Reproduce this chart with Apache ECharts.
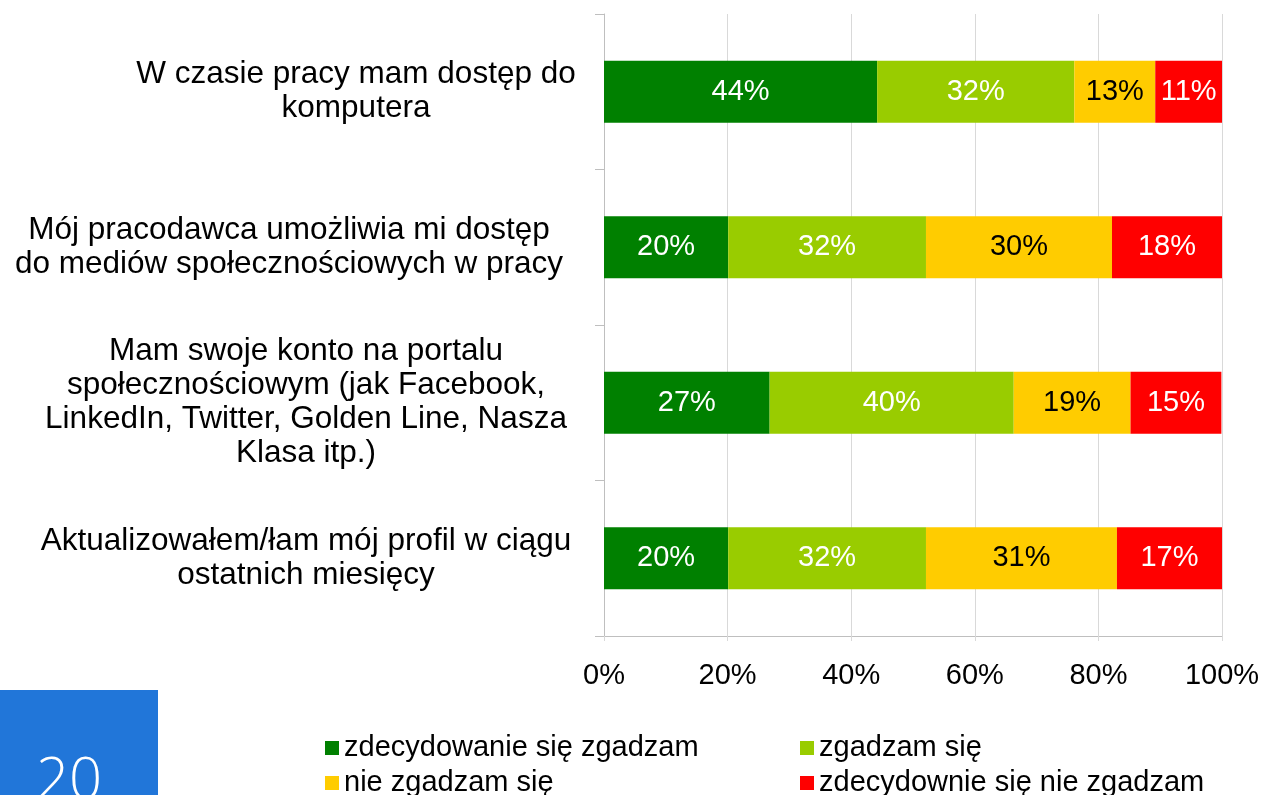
<!DOCTYPE html>
<html>
<head>
<meta charset="utf-8">
<script src="https://cdn.jsdelivr.net/npm/echarts@6/dist/echarts.min.js"></script>
<style>
  html, body { margin: 0; padding: 0; background: #fff; }
  #chart { width: 1263px; height: 795px; }
</style>
</head>
<body>
<div id="chart"></div>
<script>
  // pytania (od góry)
  var categories = [
    'W czasie pracy mam dostęp do\nkomputera',
    'Mój pracodawca umożliwia mi dostęp\ndo mediów społecznościowych w pracy',
    'Mam swoje konto na portalu\nspołecznościowym (jak Facebook,\nLinkedIn, Twitter, Golden Line, Nasza\nKlasa itp.)',
    'Aktualizowałem/łam mój profil w ciągu\nostatnich miesięcy'
  ]
  var seriesNames = ['zdecydowanie się zgadzam', 'zgadzam się', 'nie zgadzam się', 'zdecydownie się nie zgadzam']
  var strongAgree = [44.2, 20.1, 26.8, 20.1]
  var agree = [31.9, 32.0, 39.5, 32.0]
  var disagree = [13.1, 30.1, 18.9, 30.9]
  var strongDisagree = [10.8, 17.8, 14.7, 17.0]
  var xTicks = [0, 20, 40, 60, 80, 100]

  var colors = ['#008000', '#99cc00', '#ffcc00', '#ff0000']
  var labelColors = ['#ffffff', '#ffffff', '#000000', '#ffffff']
  var font = '"Liberation Sans", Arial, sans-serif'

  var chart = echarts.init(document.getElementById('chart'))

  function makeSeries(i, data) {
    return {
      name: seriesNames[i],
      type: 'bar',
      stack: 'total',
      barWidth: 62,
      data: data,
      itemStyle: { color: colors[i] },
      label: {
        show: true,
        position: 'inside',
        color: labelColors[i],
        fontFamily: font,
        fontSize: 29,
        formatter: function(p) {
          return Math.round(p.value) + '%'
        }
      }
    }
  }

  function legendBox(left, names) {
    return {
      orient: 'vertical',
      left: left,
      top: 727,
      height: 120,
      itemWidth: 14,
      itemHeight: 14,
      itemGap: 3,
      icon: 'rect',
      data: names,
      textStyle: { fontFamily: font, fontSize: 29, color: '#000', lineHeight: 32 }
    }
  }

  chart.setOption({
    animation: false,
    color: colors,
    grid: {
      left: 604,
      right: 41,
      top: 14,
      bottom: 159
    },
    graphic: [{
      type: 'rect',
      left: 0,
      top: 690,
      shape: { width: 158, height: 105 },
      style: { fill: '#2176d9' }
    }, {
      type: 'text',
      left: 36,
      top: 753,
      style: {
        text: '20',
        fill: '#ffffff',
        font: '300 58px "Open Sans", "Noto Sans", sans-serif'
      }
    }],
    legend: [
      legendBox(320, [seriesNames[0], seriesNames[2]]),
      legendBox(795, [seriesNames[1], seriesNames[3]])
    ],
    xAxis: {
      type: 'value',
      min: xTicks[0],
      max: xTicks[xTicks.length - 1],
      interval: xTicks[1] - xTicks[0],
      axisLine: { show: true, lineStyle: { color: '#bfbfbf' } },
      axisTick: { show: true, length: 5, lineStyle: { color: '#d9d9d9' } },
      splitLine: { show: true, lineStyle: { color: '#d9d9d9' } },
      axisLabel: {
        color: '#000',
        fontFamily: font,
        fontSize: 29,
        margin: 25,
        formatter: '{value}%'
      }
    },
    yAxis: {
      type: 'category',
      inverse: true,
      data: categories,
      axisLine: { show: true, lineStyle: { color: '#bfbfbf' } },
      axisTick: { show: true, length: 9, lineStyle: { color: '#bfbfbf' } },
      axisLabel: {
        margin: 298,
        align: 'center',
        formatter: function(value, idx) {
          var key = idx === 0 ? 'r' : (idx === 1 ? 'l' : 'c')
          return value.split('\n').map(function(s) {
            return '{' + key + '|' + s + '}'
          }).join('\n')
        },
        rich: {
          c: { fontFamily: font, fontSize: 31.5, lineHeight: 34, color: '#000' },
          r: { fontFamily: font, fontSize: 31.5, lineHeight: 34, color: '#000', padding: [0, 0, 0, 100] },
          l: { fontFamily: font, fontSize: 31.5, lineHeight: 34, color: '#000', padding: [0, 34, 0, 0] }
        }
      }
    },
    series: [
      makeSeries(0, strongAgree),
      makeSeries(1, agree),
      makeSeries(2, disagree),
      makeSeries(3, strongDisagree)
    ]
  })
</script>
</body>
</html>
